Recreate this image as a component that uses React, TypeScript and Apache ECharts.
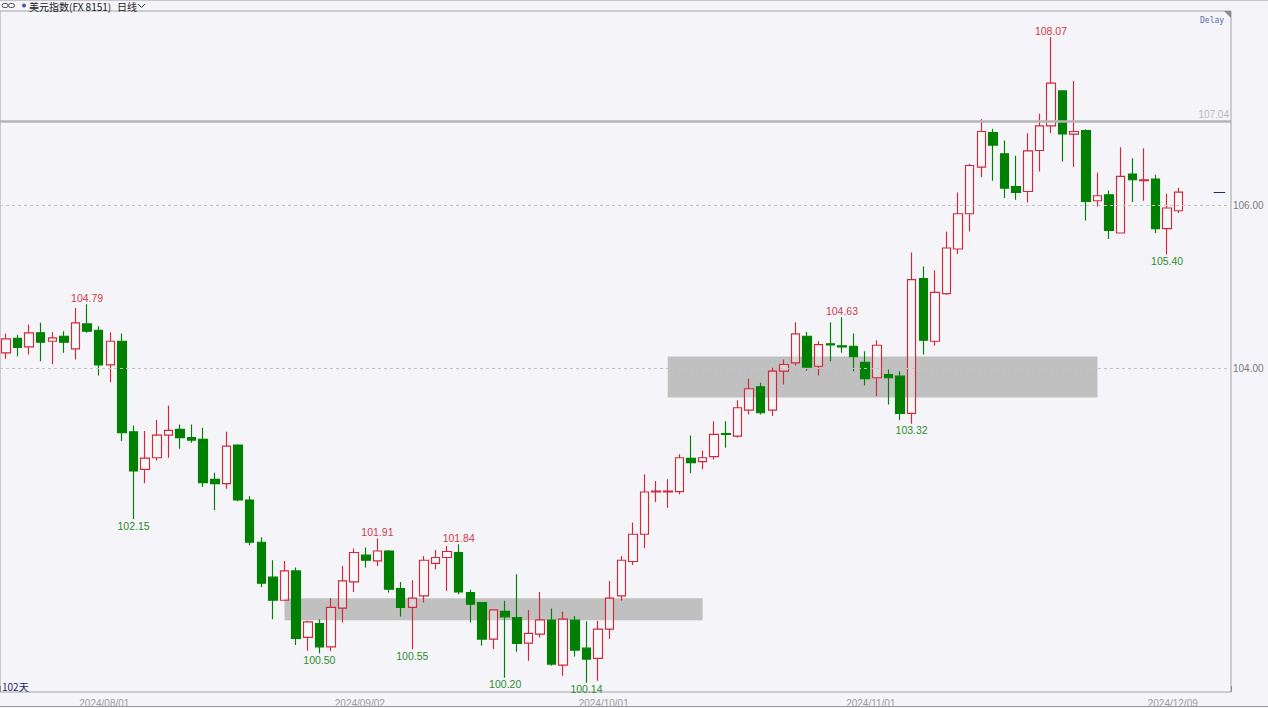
import React, { useEffect, useRef } from "react";
import * as echarts from "echarts";

const DATES = [
  "2024/07/19", "2024/07/22", "2024/07/23", "2024/07/24", "2024/07/25", "2024/07/26", "2024/07/29", "2024/07/30", "2024/07/31",
  "2024/08/01", "2024/08/02", "2024/08/05", "2024/08/06", "2024/08/07", "2024/08/08", "2024/08/09", "2024/08/12", "2024/08/13",
  "2024/08/14", "2024/08/15", "2024/08/16", "2024/08/19", "2024/08/20", "2024/08/21", "2024/08/22", "2024/08/23", "2024/08/26",
  "2024/08/27", "2024/08/28", "2024/08/29", "2024/08/30",
  "2024/09/02", "2024/09/03", "2024/09/04", "2024/09/05", "2024/09/06", "2024/09/09", "2024/09/10", "2024/09/11", "2024/09/12",
  "2024/09/13", "2024/09/16", "2024/09/17", "2024/09/18", "2024/09/19", "2024/09/20", "2024/09/23", "2024/09/24", "2024/09/25",
  "2024/09/26", "2024/09/27", "2024/09/30",
  "2024/10/01", "2024/10/02", "2024/10/03", "2024/10/04", "2024/10/07", "2024/10/08", "2024/10/09", "2024/10/10", "2024/10/11",
  "2024/10/14", "2024/10/15", "2024/10/16", "2024/10/17", "2024/10/18", "2024/10/21", "2024/10/22", "2024/10/23", "2024/10/24",
  "2024/10/25", "2024/10/28", "2024/10/29", "2024/10/30", "2024/10/31",
  "2024/11/01", "2024/11/04", "2024/11/05", "2024/11/06", "2024/11/07", "2024/11/08", "2024/11/11", "2024/11/12", "2024/11/13",
  "2024/11/14", "2024/11/15", "2024/11/18", "2024/11/19", "2024/11/20", "2024/11/21", "2024/11/22", "2024/11/25", "2024/11/26",
  "2024/11/27", "2024/11/28", "2024/11/29",
  "2024/12/02", "2024/12/03", "2024/12/04", "2024/12/05", "2024/12/06", "2024/12/09",
];
const PAD_CATS = ["e1", "e2", "e3", "e4"];

const OPEN = [
  104.193, 104.372, 104.266, 104.438, 104.335, 104.396, 104.242, 104.548, 104.470, 104.045,
  104.335, 103.223, 102.761, 102.904, 103.182, 103.252, 103.150, 103.129, 102.638, 102.585,
  103.059, 102.384, 101.865, 101.436, 101.153, 101.513, 100.696, 100.867, 100.580, 101.055,
  101.378, 101.706, 101.636, 101.758, 101.297, 101.064, 101.206, 101.606, 101.678, 101.739,
  101.248, 101.125, 100.675, 101.015, 100.941, 100.626, 100.736, 100.908, 100.356, 100.908,
  100.564, 100.438, 100.798, 101.206, 101.628, 101.963, 102.482, 102.482, 102.487, 102.896,
  102.855, 102.917, 103.202, 103.169, 103.488, 103.775, 103.488, 103.967, 104.070, 104.396,
  104.028, 104.303, 104.279, 104.274, 104.077, 103.886, 103.926, 103.906, 103.448, 105.104,
  104.335, 104.920, 105.469, 105.902, 106.475, 106.899, 106.638, 106.237, 106.175, 106.679,
  106.982, 107.411, 106.880, 106.924, 106.061, 106.135, 105.665, 106.389, 106.307, 106.328,
  105.718, 105.939,
];
const CLOSE = [
  104.364, 104.258, 104.438, 104.323, 104.377, 104.323, 104.561, 104.458, 104.045, 104.335,
  103.211, 102.740, 102.899, 103.182, 103.239, 103.150, 103.120, 102.598, 102.585, 103.047,
  102.384, 101.865, 101.362, 101.153, 101.513, 100.684, 100.887, 100.580, 101.064, 101.390,
  101.739, 101.644, 101.758, 101.288, 101.064, 101.178, 101.644, 101.678, 101.751, 101.255,
  101.104, 100.675, 101.034, 100.949, 100.622, 100.745, 100.912, 100.368, 100.920, 100.540,
  100.429, 100.798, 101.178, 101.644, 101.963, 102.482, 102.494, 102.494, 102.904, 102.843,
  102.904, 103.190, 103.190, 103.518, 103.751, 103.456, 103.967, 104.049, 104.426, 104.016,
  104.294, 104.291, 104.266, 104.144, 103.874, 104.286, 103.886, 103.448, 105.092, 104.347,
  104.936, 105.481, 105.902, 106.494, 106.912, 106.745, 106.217, 106.163, 106.675, 106.982,
  107.506, 106.883, 106.912, 106.053, 106.123, 105.697, 106.360, 106.319, 106.319, 105.718,
  105.972, 106.168,
];
const LOW = [
  104.119, 104.151, 104.172, 104.090, 104.053, 104.193, 104.110, 104.438, 103.914, 103.832,
  103.108, 102.150, 102.589, 102.871, 102.904, 103.015, 103.088, 102.544, 102.261, 102.524,
  102.370, 101.828, 101.313, 100.920, 101.150, 100.601, 100.531, 100.500, 100.530, 100.880,
  101.255, 101.554, 101.574, 101.248, 100.954, 100.550, 101.125, 101.534, 101.267, 101.227,
  100.880, 100.593, 100.552, 100.200, 100.519, 100.409, 100.696, 100.347, 100.225, 100.462,
  100.140, 100.163, 100.675, 101.145, 101.587, 101.791, 102.360, 102.290, 102.454, 102.712,
  102.761, 102.883, 103.027, 103.150, 103.436, 103.436, 103.415, 103.804, 104.037, 103.975,
  103.914, 104.090, 104.193, 103.967, 103.791, 103.660, 103.558, 103.366, 103.320, 104.172,
  104.282, 104.905, 105.407, 105.685, 106.352, 106.307, 106.094, 106.074, 106.040, 106.421,
  106.892, 106.544, 106.475, 105.820, 105.991, 105.591, 105.660, 106.045, 106.061, 105.665,
  105.400, 105.910,
];
const HIGH = [
  104.429, 104.413, 104.540, 104.561, 104.445, 104.458, 104.745, 104.790, 104.519, 104.445,
  104.429, 103.301, 103.231, 103.366, 103.546, 103.313, 103.313, 103.272, 102.720, 103.223,
  103.070, 102.430, 101.926, 101.644, 101.636, 101.554, 100.900, 100.920, 101.178, 101.574,
  101.788, 101.800, 101.910, 101.770, 101.378, 101.399, 101.697, 101.770, 101.820, 101.840,
  101.280, 101.130, 101.043, 101.145, 101.472, 101.034, 101.255, 101.052, 101.010, 100.960,
  100.894, 100.900, 101.390, 101.697, 102.107, 102.700, 102.617, 102.638, 102.945, 103.178,
  102.994, 103.353, 103.353, 103.611, 103.874, 103.824, 104.009, 104.110, 104.568, 104.450,
  104.335, 104.568, 104.630, 104.429, 104.212, 104.347, 103.988, 103.967, 105.427, 105.255,
  105.206, 105.685, 106.163, 106.515, 107.064, 106.945, 106.801, 106.613, 106.892, 107.129,
  108.070, 107.420, 107.534, 106.941, 106.409, 106.188, 106.720, 106.585, 106.708, 106.380,
  106.147, 106.217,
];

const AXIS_LABEL_DATES = ["2024/08/01", "2024/09/02", "2024/10/01", "2024/11/01", "2024/12/09"];
const TICK_DATES = ["2024/12/09"];
const PRICE_LEVELS = [104, 106];
const RESISTANCE = 107.04;
const LAST_PRICE = 106.168;
const Y_MIN = 100.025;
const Y_MAX = 108.393;

const HIGH_MARKS = [
  { date: "2024/07/30", value: 104.79 },
  { date: "2024/09/03", value: 101.91 },
  { date: "2024/09/12", value: 101.84 },
  { date: "2024/10/29", value: 104.63 },
  { date: "2024/11/22", value: 108.07 },
];
const LOW_MARKS = [
  { date: "2024/08/05", value: 102.15 },
  { date: "2024/08/27", value: 100.5 },
  { date: "2024/09/06", value: 100.55 },
  { date: "2024/09/18", value: 100.2 },
  { date: "2024/09/27", value: 100.14 },
  { date: "2024/11/06", value: 103.32 },
  { date: "2024/12/06", value: 105.4 },
];
const ZONES = [
  { from: "2024/08/22", to: "2024/10/11", low: 100.908, high: 101.178 },
  { from: "2024/10/08", to: "2024/11/28", low: 103.644, high: 104.147 },
];

const BG = "#f5f5f9";
const UP = "#d3283a";
const DOWN = "#008000";
const LABEL_RED = "#cf3a48";
const LABEL_GREEN = "#2e8b2e";

export default function App() {
  const ref = useRef<HTMLDivElement>(null);

  useEffect(() => {
    document.body.style.margin = "0";
    document.body.style.background = BG;
    const chart = echarts.init(ref.current!, null, { renderer: "svg" });
    const cats = [...DATES, ...PAD_CATS];
    const kdata = DATES.map((_, i) => [OPEN[i], CLOSE[i], LOW[i], HIGH[i]]);

    const levelLines = PRICE_LEVELS.map((v) => ({
      yAxis: v,
      lineStyle: { type: [3, 3], color: "#c4c4c8", width: 1 },
      label: {
        show: true,
        position: "end",
        distance: 2,
        formatter: v.toFixed(2),
        color: "#7a7a7a",
        fontSize: 10,
        fontFamily: "Liberation Sans",
      },
    }));

    const markPoints = [
      ...HIGH_MARKS.map((m) => ({
        coord: [m.date, m.value],
        value: m.value,
        label: { position: "top", distance: 1, color: LABEL_RED },
      })),
      ...LOW_MARKS.map((m) => ({
        coord: [m.date, m.value],
        value: m.value,
        label: { position: "bottom", distance: 1, color: LABEL_GREEN },
      })),
    ];

    chart.setOption({
      animation: false,
      backgroundColor: BG,
      textStyle: { fontFamily: "Liberation Sans" },
      grid: {
        left: 0,
        right: 37,
        top: 11,
        bottom: 16,
        show: true,
        borderColor: "#a4a4a8",
        borderWidth: 1,
        backgroundColor: "transparent",
      },
      xAxis: {
        type: "category",
        data: cats,
        boundaryGap: true,
        axisLine: { show: false },
        axisTick: {
          show: true,
          inside: true,
          length: 6,
          interval: (_i: number, v: string) => TICK_DATES.includes(v),
          lineStyle: { color: "#8a8a8a" },
        },
        axisLabel: {
          interval: (_i: number, v: string) => AXIS_LABEL_DATES.includes(v),
          color: "#9c9c9c",
          fontSize: 10,
          margin: 6,
          padding: [0, 12, 0, 0],
          fontFamily: "Liberation Sans",
        },
        splitLine: { show: false },
      },
      yAxis: {
        type: "value",
        position: "right",
        min: Y_MIN,
        max: Y_MAX,
        axisLine: { show: false },
        axisTick: { show: false },
        axisLabel: { show: false },
        splitLine: { show: false },
      },
      series: [
        {
          type: "candlestick",
          data: kdata,
          barWidth: 9,
          z: 3,
          itemStyle: {
            color: "rgba(255,255,255,0.35)",
            color0: DOWN,
            borderColor: UP,
            borderColor0: DOWN,
            borderColorDoji: UP,
            borderWidth: 1.15,
          },
          markArea: {
            silent: true,
            z: 1,
            itemStyle: { color: "#c0c0c0", opacity: 1 },
            data: ZONES.map((zn) => [
              { xAxis: zn.from, yAxis: zn.high },
              { xAxis: zn.to, yAxis: zn.low },
            ]),
          },
          markLine: {
            silent: true,
            symbol: ["none", "none"],
            data: [
              ...levelLines,
              {
                yAxis: RESISTANCE,
                lineStyle: { type: "solid", color: "#b4b4b8", width: 2.5 },
                label: {
                  show: true,
                  position: "insideEndTop",
                  distance: 2,
                  formatter: RESISTANCE.toFixed(2),
                  color: "#b8b8bc",
                  fontSize: 10,
                },
              },
              [
                {
                  coord: [PAD_CATS[2], LAST_PRICE],
                  lineStyle: { type: "solid", color: "#1f2a7a", width: 1 },
                  label: { show: false },
                },
                { coord: [PAD_CATS[3], LAST_PRICE] },
              ],
            ],
          },
          markPoint: {
            silent: true,
            symbol: "circle",
            symbolSize: 1,
            itemStyle: { color: "rgba(0,0,0,0)" },
            label: {
              show: true,
              fontSize: 10.5,
              lineHeight: 10,
              fontFamily: "Liberation Sans",
              formatter: (p: any) => Number(p.value).toFixed(2),
            },
            data: markPoints,
          },
        },
      ],
      graphic: [
        { type: "line", shape: { x1: 0, y1: 0.5, x2: 1268, y2: 0.5 }, style: { stroke: "#c8c8cc", lineWidth: 1 } },
        { type: "line", shape: { x1: 0, y1: 706.5, x2: 1268, y2: 706.5 }, style: { stroke: "#9a9a9e", lineWidth: 1 } },
        { type: "rect", shape: { x: 2, y: 3.5, width: 6, height: 4, r: 2 }, style: { fill: "none", stroke: "#555", lineWidth: 1 } },
        { type: "rect", shape: { x: 8.5, y: 3.5, width: 6, height: 4, r: 2 }, style: { fill: "none", stroke: "#555", lineWidth: 1 } },
        { type: "circle", shape: { cx: 24, cy: 5.5, r: 2 }, style: { fill: "#3b5ea8" } },
        {
          type: "text",
          x: 29,
          y: 6,
          style: { text: "美元指数(FX 8151)", font: '10px "Noto Sans CJK SC"', fill: "#222", verticalAlign: "middle" },
        },
        {
          type: "text",
          x: 117,
          y: 6,
          style: { text: "日线", font: '10px "Noto Sans CJK SC"', fill: "#222", verticalAlign: "middle" },
        },
        { type: "polyline", shape: { points: [[138, 4], [141.5, 7.5], [145, 4]] }, style: { stroke: "#333", lineWidth: 1, fill: "none" } },
        {
          type: "text",
          x: 1200,
          y: 20,
          style: { text: "Delay", font: '8px "DejaVu Sans Mono"', fill: "#4d6fa8", verticalAlign: "middle" },
        },
        { type: "polygon", shape: { points: [[1224, 11], [1231, 11], [1231, 18]] }, style: { fill: "#8a8a8e" } },
        {
          type: "text",
          x: 2,
          y: 686,
          style: { text: "102天", font: '10px "Noto Sans CJK SC"', fill: "#1c1c6c", verticalAlign: "middle" },
        },
      ],
    });

    return () => chart.dispose();
  }, []);

  return (
    <div
      ref={ref}
      style={{ position: "absolute", left: 0, top: 0, width: 1268, height: 708, background: BG }}
    />
  );
}
